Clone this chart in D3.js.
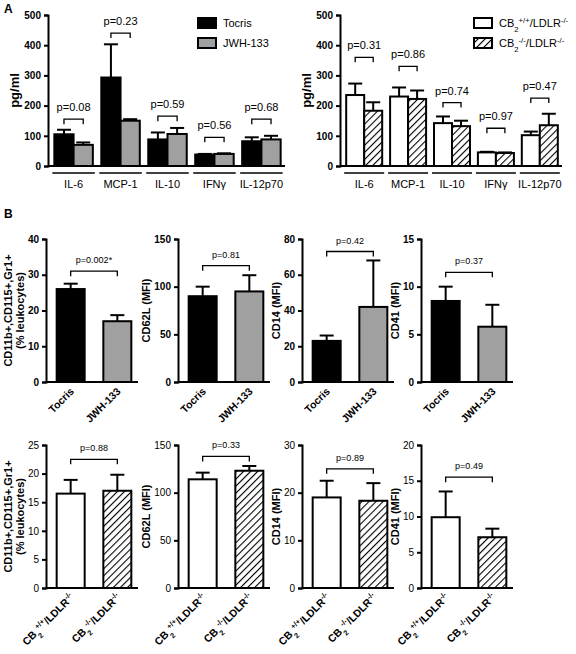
<!DOCTYPE html>
<html><head><meta charset="utf-8">
<script src="https://cdn.jsdelivr.net/npm/d3@7"></script>
<style>body{margin:0;background:#fff}text{font-family:Arial,"Liberation Sans",sans-serif}</style>
</head><body>
<script>
// panel A data
const cytokines = ["IL-6", "MCP-1", "IL-10", "IFNγ", "IL-12p70"];
const tocrisA = [105, 293, 88, 38, 82];
const tocrisAErr = [15, 110, 23, 2, 13];
const jwhA = [70, 150, 106, 40, 88];
const jwhAErr = [8, 5, 20, 2, 12];
const pA1 = ["p=0.08", "p=0.23", "p=0.59", "p=0.56", "p=0.68"];
const brA1 = [155, 440, 165, 95, 155];
const wtA = [235, 230, 142, 45, 102];
const wtAErr = [38, 30, 22, 2, 12];
const koA = [183, 222, 132, 43, 135];
const koAErr = [28, 28, 18, 2, 38];
const pA2 = ["p=0.31", "p=0.86", "p=0.74", "p=0.97", "p=0.47"];
const brA2 = [360, 330, 210, 125, 225];

// panel B data
const markerLabels = [["CD11b+,CD115+,Gr1+", "(% leukocytes)"], ["CD62L (MFI)"], ["CD14 (MFI)"], ["CD41 (MFI)"]];
const row1Max = [40, 150, 80, 15], row1Step = [10, 50, 20, 5];
const row1Vals = [[26, 17], [90, 95], [23, 42], [8.5, 5.8]];
const row1Err = [[1.5, 1.7], [10, 17], [3, 26], [1.5, 2.3]];
const row1P = ["p=0.002*", "p=0.81", "p=0.42", "p=0.37"];
const row1Br = [31, 122, 73, 11.5];
const row2Max = [25, 150, 30, 20], row2Step = [5, 50, 10, 5];
const row2Vals = [[16.5, 17], [114, 123], [19, 18.3], [9.9, 7.1]];
const row2Err = [[2.4, 2.8], [7, 5], [3.5, 3.7], [3.6, 1.2]];
const row2P = ["p=0.88", "p=0.33", "p=0.89", "p=0.49"];
const row2Br = [22.5, 138, 25, 15.5];

const svg = d3.select("body").append("svg").attr("width", 576).attr("height", 654);
const defs = svg.append("defs");
const pat = defs.append("pattern").attr("id", "hatch").attr("patternUnits", "userSpaceOnUse")
  .attr("width", 5).attr("height", 5).attr("patternTransform", "rotate(45)");
pat.append("rect").attr("width", 5).attr("height", 5).attr("fill", "#fff");
pat.append("line").attr("x1", 0).attr("y1", 0).attr("x2", 0).attr("y2", 5).attr("stroke", "#000").attr("stroke-width", 2.2);

svg.append("text").attr("x", 4).attr("y", 13).attr("font-size", 12).attr("font-weight", "bold").text("A");
svg.append("text").attr("x", 4).attr("y", 218).attr("font-size", 12).attr("font-weight", "bold").text("B");

function cbLabel(t, sup1, sup2, size) {
  t.append("tspan").text("CB");
  t.append("tspan").attr("baseline-shift", "sub").attr("font-size", size * 0.7).text("2");
  t.append("tspan").attr("baseline-shift", "super").attr("font-size", size * 0.7).text(sup1);
  t.append("tspan").text("/LDLR");
  t.append("tspan").attr("baseline-shift", "super").attr("font-size", size * 0.7).text(sup2);
}

// returns left edge of the tick labels
function axisY(g, y, ticks, x0, bold) {
  const ax = g.append("g").attr("transform", `translate(${x0},0)`)
    .call(d3.axisLeft(y).tickValues(ticks).tickSize(4).tickFormat(d3.format("d")));
  ax.selectAll("path,line").attr("stroke", "#000").attr("stroke-width", 2);
  ax.selectAll("text").attr("font-size", 10).attr("font-weight", bold ? "bold" : "normal").attr("fill", "#000");
  return x0 + ax.node().getBBox().x;
}

function bracket(g, x1, x2, yy, label, fs) {
  g.append("path").attr("d", `M${x1},${yy + 5}V${yy}H${x2}V${yy + 5}`)
    .attr("fill", "none").attr("stroke", "#000").attr("stroke-width", 1.3);
  g.append("text").attr("x", (x1 + x2) / 2).attr("y", yy - 8).attr("text-anchor", "middle")
    .attr("font-size", fs).text(label);
}

function errBar(g, cx, y0, y1) {
  g.append("line").attr("x1", cx).attr("x2", cx).attr("y1", y0).attr("y2", y1).attr("stroke", "#000").attr("stroke-width", 2);
  g.append("line").attr("x1", cx - 7).attr("x2", cx + 7).attr("y1", y1).attr("y2", y1).attr("stroke", "#000").attr("stroke-width", 2);
}

function panelA(x0, x1, s1, e1, s2, e2, fills, pl, br, legendNames, lx) {
  const g = svg.append("g");
  const y = d3.scaleLinear().domain([0, 500]).range([166, 15]);
  const xg = d3.scaleBand().domain(cytokines).range([x0 + 4, x1]).paddingInner(0.18).paddingOuter(0.05);
  const xs = d3.scaleBand().domain([0, 1]).range([0, xg.bandwidth()]);
  const series = [[s1, e1], [s2, e2]];
  cytokines.forEach((c, i) => {
    series.forEach(([v, e], k) => {
      const bx = xg(c) + xs(k);
      g.append("rect").attr("x", bx).attr("y", y(v[i])).attr("width", xs.bandwidth()).attr("height", y(0) - y(v[i]))
        .attr("fill", fills[k]).attr("stroke", "#000").attr("stroke-width", 2);
      errBar(g, bx + xs.bandwidth() / 2, y(v[i]), y(v[i] + e[i]));
    });
    const c1 = xg(c) + xs(0) + xs.bandwidth() / 2, c2 = xg(c) + xs(1) + xs.bandwidth() / 2;
    bracket(g, c1, c2, y(br[i]), pl[i], 11);
    g.append("line").attr("x1", xg(c) - 2).attr("x2", xg(c) + xg.bandwidth() + 2).attr("y1", 173).attr("y2", 173)
      .attr("stroke", "#000").attr("stroke-width", 1.5);
    g.append("text").attr("x", xg(c) + xg.bandwidth() / 2).attr("y", 188).attr("text-anchor", "middle")
      .attr("font-size", 11).text(c);
  });
  g.append("line").attr("x1", x0).attr("x2", x1 + 2).attr("y1", y(0)).attr("y2", y(0)).attr("stroke", "#000").attr("stroke-width", 2);
  const left = axisY(g, y, d3.range(0, 501, 100), x0, true);
  g.append("text").attr("transform", `translate(${left - 5},${y(250)}) rotate(-90)`).attr("text-anchor", "middle")
    .attr("font-size", 13).attr("font-weight", "bold").text("pg/ml");
  legendNames.forEach((n, k) => {
    const ly = 18 + k * 20;
    g.append("rect").attr("x", lx).attr("y", ly).attr("width", 18).attr("height", 10)
      .attr("fill", fills[k]).attr("stroke", "#000").attr("stroke-width", 2);
    const t = g.append("text").attr("x", lx + 25).attr("y", ly + 9).attr("font-size", 11);
    if (typeof n === "string") t.text(n); else cbLabel(t, n[0], n[1], 11);
  });
}

panelA(48, 283, tocrisA, tocrisAErr, jwhA, jwhAErr, ["#000", "#a0a0a0"], pA1, brA1, ["Tocris", "JWH-133"], 198);
panelA(340, 560, wtA, wtAErr, koA, koAErr, ["#fff", "url(#hatch)"], pA2, brA2, [["+/+", "-/-"], ["-/-", "-/-"]], 474);

function panelB(x0, yTop, yBot, max, step, vals, errs, p, br, ylab, fills, xlabs, bold) {
  const g = svg.append("g");
  const y = d3.scaleLinear().domain([0, max]).range([yBot, yTop]);
  const x = d3.scaleBand().domain([0, 1]).range([x0 + 6, x0 + 90]).paddingInner(0.4).paddingOuter(0.1);
  vals.forEach((v, k) => {
    g.append("rect").attr("x", x(k)).attr("y", y(v)).attr("width", x.bandwidth()).attr("height", y(0) - y(v))
      .attr("fill", fills[k]).attr("stroke", "#000").attr("stroke-width", 2);
    errBar(g, x(k) + x.bandwidth() / 2, y(v), y(v + errs[k]));
    const t = g.append("text").attr("text-anchor", "end").attr("font-size", 10.5).attr("font-weight", "bold")
      .attr("transform", `translate(${x(k) + x.bandwidth() / 2 + 4},${yBot + 10}) rotate(-45)`);
    if (typeof xlabs[k] === "string") t.text(xlabs[k]); else cbLabel(t, xlabs[k][0], xlabs[k][1], 10.5);
  });
  bracket(g, x(0) + x.bandwidth() / 2, x(1) + x.bandwidth() / 2, y(br), p, 9);
  g.append("line").attr("x1", x0).attr("x2", x0 + 92).attr("y1", yBot).attr("y2", yBot).attr("stroke", "#000").attr("stroke-width", 2);
  const left = axisY(g, y, d3.range(0, max + 0.01, step), x0, bold);
  const t = g.append("text").attr("text-anchor", "middle").attr("font-size", 11).attr("font-weight", "bold");
  if (ylab.length === 1) {
    t.attr("transform", `translate(${left - 4},${(yTop + yBot) / 2}) rotate(-90)`).text(ylab[0]);
  } else {
    t.attr("transform", `translate(${left - 16},${(yTop + yBot) / 2}) rotate(-90)`);
    ylab.forEach((l, i) => t.append("tspan").attr("x", 0).attr("dy", i ? 12 : 0).text(l));
  }
}

const bx = [46, 178, 302, 421];
bx.forEach((x0, i) => {
  panelB(x0, 239, 382, row1Max[i], row1Step[i], row1Vals[i], row1Err[i], row1P[i], row1Br[i],
    markerLabels[i], ["#000", "#a0a0a0"], ["Tocris", "JWH-133"], true);
  panelB(x0, 445, 588, row2Max[i], row2Step[i], row2Vals[i], row2Err[i], row2P[i], row2Br[i],
    markerLabels[i], ["#fff", "url(#hatch)"], [["+/+", "-/-"], ["-/-", "-/-"]], false);
});
</script>
</body></html>
